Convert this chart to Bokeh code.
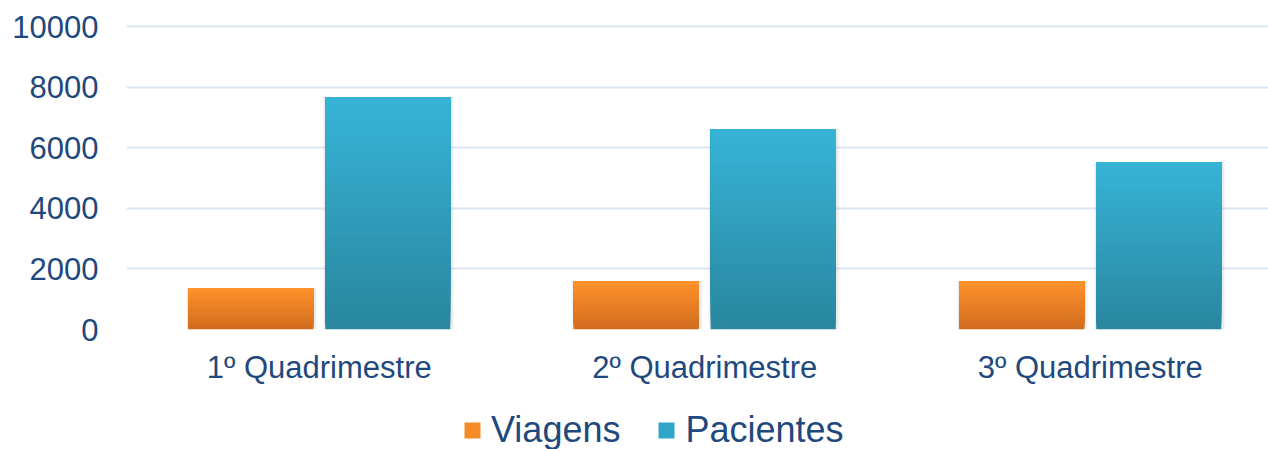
import numpy as np
from bokeh.plotting import figure
from bokeh.layouts import column
from bokeh.models import (Range1d, FixedTicker, NumeralTickFormatter, Legend,
                          LegendItem, ColumnDataSource)
from bokeh.embed import file_html
from bokeh.resources import INLINE

categories = ["1º Quadrimestre", "2º Quadrimestre", "3º Quadrimestre"]
viagens = [1370, 1600, 1600]
pacientes = [7670, 6620, 5530]
series_names = ["Viagens", "Pacientes"]
y_ticks = [0, 2000, 4000, 6000, 8000, 10000]

TEXT = "#1F497D"
FONT = "Liberation Sans"

H1 = 390
PX_PER_UNIT = 303.0 / 10000.0
p = figure(width=1268, height=H1, output_backend="svg", toolbar_location=None,
           x_range=Range1d(0.5, 0.5 + 1142 / 385.5),
           y_range=Range1d(0, 10000 + 16 / PX_PER_UNIT),
           min_border_left=126, min_border_right=0, min_border_top=10,
           min_border_bottom=H1 - 329)
p.outline_line_color = None
p.background_fill_color = "white"
p.border_fill_color = "white"


def gradient_bars(xs, vals, top_rgb, bot_rgb, n=40):
    xs_l, b_l, t_l, c_l = [], [], [], []
    top = np.array(top_rgb, dtype=float)
    bot = np.array(bot_rgb, dtype=float)
    for i in range(n):
        f = (i + 0.5) / n
        c = bot + (top - bot) * f
        for x, v in zip(xs, vals):
            xs_l.append(x)
            b_l.append(v * i / n)
            t_l.append(v)
            c_l.append("#%02x%02x%02x" % tuple(int(round(k)) for k in c))
    return ColumnDataSource(dict(x=xs_l, bottom=b_l, top=t_l, color=c_l))


xpos = np.arange(1, len(categories) + 1)
bw = 125 / 385.5
off = 68.5 / 385.5

# soft shadows
for vals, dx in ((viagens, -off), (pacientes, off)):
    for k, a in ((0.016, 0.06), (0.010, 0.10)):
        p.vbar(x=xpos + dx + 0.002, width=bw + k, top=np.array(vals) * 1.0,
               bottom=-70 * k / 0.016, fill_color="#808080", fill_alpha=a, line_color=None)

src_v = gradient_bars(xpos - off, viagens, (255, 146, 43), (208, 108, 31))
src_p = gradient_bars(xpos + off, pacientes, (55, 180, 215), (41, 134, 158))
p.vbar(x="x", width=bw, bottom="bottom", top="top", fill_color="color",
       line_color=None, source=src_v)
p.vbar(x="x", width=bw, bottom="bottom", top="top", fill_color="color",
       line_color=None, source=src_p)

# axes
p.xaxis.ticker = FixedTicker(ticks=list(xpos))
p.xaxis.major_label_overrides = {int(i): c for i, c in zip(xpos, categories)}
p.yaxis.ticker = FixedTicker(ticks=y_ticks)
p.yaxis.formatter = NumeralTickFormatter(format="0")
for ax in (p.xaxis[0], p.yaxis[0]):
    ax.axis_line_color = None
    ax.major_tick_line_color = None
    ax.minor_tick_line_color = None
    ax.major_tick_out = 0
    ax.major_tick_in = 0
    ax.major_label_text_font = FONT
    ax.major_label_text_font_size = "31px"
    ax.major_label_text_color = TEXT
p.xaxis.major_label_standoff = 20
p.yaxis.major_label_standoff = 28

p.xgrid.grid_line_color = None
p.ygrid.grid_line_color = "#DCE6F2"
p.ygrid.grid_line_width = 2

# legend strip
H2 = 449 - H1
q = figure(width=1268, height=H2, output_backend="svg", toolbar_location=None,
           x_range=Range1d(0, 1), y_range=Range1d(0, 1),
           x_axis_location=None, y_axis_location=None,
           min_border_left=0, min_border_right=0, min_border_top=0, min_border_bottom=0)
q.outline_line_color = None
q.xgrid.visible = False
q.ygrid.visible = False
lv = q.rect(x=[-10], y=[-10], width=1, height=1, fill_color="#F58A27", line_color=None)
lp = q.rect(x=[-10], y=[-10], width=1, height=1, fill_color="#31A6C6", line_color=None)

legend = Legend(items=[LegendItem(label=series_names[0], renderers=[lv]),
                       LegendItem(label=series_names[1], renderers=[lp])],
                orientation="horizontal", location=(336, -2),
                label_text_font=FONT, label_text_font_size="36px",
                label_text_color=TEXT, glyph_width=20, glyph_height=20,
                label_standoff=9, spacing=36, padding=0, margin=0,
                border_line_color=None, background_fill_alpha=0)
q.add_layout(legend, "center")

open("out.html", "w").write(file_html(column(p, q, spacing=0), INLINE))
